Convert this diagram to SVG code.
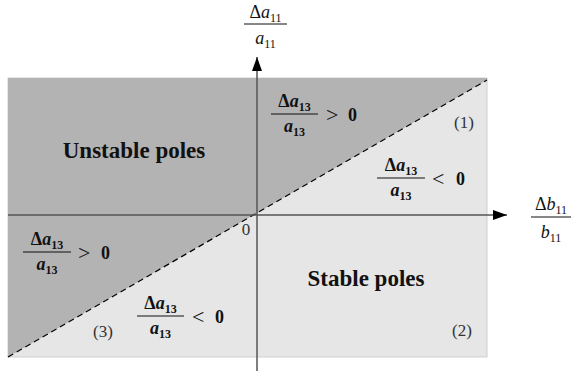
<svg xmlns="http://www.w3.org/2000/svg" width="572" height="373" viewBox="0 0 572 373">
<style>
text{font-family:'Liberation Serif','Times New Roman',Times,'Nimbus Roman','Nimbus Roman No9 L',FreeSerif,'Noto Serif','DejaVu Serif',serif}
.big{font-weight:bold;font-size:23px;fill:#111}
.m{font-size:18px;fill:#111}
.mb{font-size:18px;font-weight:bold;fill:#111}
.rel{font-size:22px;fill:#111}
.it{font-style:italic}
.sub{font-size:12px}
.num{font-size:17px;fill:#333}
.bar{stroke:#111;stroke-width:1.1}
.axis{stroke:#555;stroke-width:1.5;fill:none}
</style>
<defs>
<marker id="ah" viewBox="0 0 14 10" refX="14" refY="5" markerWidth="14" markerHeight="10" markerUnits="userSpaceOnUse" orient="auto">
<path d="M0,0 L14,5 L0,10 Z" fill="#000"/>
</marker>
</defs>
<g id="regions">
<rect x="8" y="78" width="479" height="279" fill="#e6e6e6" stroke="#cfcfcf" stroke-width="1"/>
<polygon points="8,78 487,78 487,80 8,357" fill="#b3b3b3"/>
<line x1="8" y1="357" x2="487" y2="80" stroke="#000" stroke-width="1.2" stroke-dasharray="6,4"/>
</g>
<g id="connectors">
<line class="axis" x1="8" y1="215" x2="507" y2="215" marker-end="url(#ah)"/>
<line class="axis" x1="257" y1="371" x2="257" y2="57" marker-end="url(#ah)"/>
</g>
<g id="unstable">
<text class="big" x="134" y="158" text-anchor="middle">Unstable poles</text>
</g>
<g id="stable">
<text class="big" x="366" y="286" text-anchor="middle">Stable poles</text>
</g>
<g id="yaxis-label">
<text class="m" x="265.5" y="18" text-anchor="middle">Δ<tspan class="it">a</tspan><tspan class="sub" dy="4">11</tspan></text>
<line class="bar" x1="244" y1="24" x2="287" y2="24"/>
<text class="m" x="265.5" y="44" text-anchor="middle"><tspan class="it">a</tspan><tspan class="sub" dy="4">11</tspan></text>
</g>
<g id="xaxis-label">
<text class="m" x="551" y="210" text-anchor="middle">Δ<tspan class="it">b</tspan><tspan class="sub" dy="4">11</tspan></text>
<line class="bar" x1="531" y1="217" x2="571" y2="217"/>
<text class="m" x="551" y="238" text-anchor="middle"><tspan class="it">b</tspan><tspan class="sub" dy="4">11</tspan></text>
</g>
<g id="frac1">
<text class="mb" x="294.5" y="107" text-anchor="middle">Δ<tspan class="it">a</tspan><tspan class="sub" dy="4">13</tspan></text>
<line class="bar" x1="271" y1="114" x2="318" y2="114"/>
<text class="mb" x="294.5" y="132" text-anchor="middle"><tspan class="it">a</tspan><tspan class="sub" dy="4">13</tspan></text>
<text class="rel" x="326" y="122">&gt;</text>
<text class="mb" x="348" y="121">0</text>
</g>
<g id="frac2">
<text class="mb" x="401" y="171" text-anchor="middle">Δ<tspan class="it">a</tspan><tspan class="sub" dy="4">13</tspan></text>
<line class="bar" x1="377" y1="178" x2="425" y2="178"/>
<text class="mb" x="401" y="196" text-anchor="middle"><tspan class="it">a</tspan><tspan class="sub" dy="4">13</tspan></text>
<text class="rel" x="432" y="186">&lt;</text>
<text class="mb" x="456" y="185">0</text>
</g>
<g id="frac3">
<text class="mb" x="47" y="245" text-anchor="middle">Δ<tspan class="it">a</tspan><tspan class="sub" dy="4">13</tspan></text>
<line class="bar" x1="23" y1="252" x2="71" y2="252"/>
<text class="mb" x="47" y="270" text-anchor="middle"><tspan class="it">a</tspan><tspan class="sub" dy="4">13</tspan></text>
<text class="rel" x="78" y="260">&gt;</text>
<text class="mb" x="101" y="259">0</text>
</g>
<g id="frac4">
<text class="mb" x="160.5" y="309" text-anchor="middle">Δ<tspan class="it">a</tspan><tspan class="sub" dy="4">13</tspan></text>
<line class="bar" x1="137" y1="316" x2="184" y2="316"/>
<text class="mb" x="160.5" y="334" text-anchor="middle"><tspan class="it">a</tspan><tspan class="sub" dy="4">13</tspan></text>
<text class="rel" x="192" y="324">&lt;</text>
<text class="mb" x="215" y="323">0</text>
</g>
<g id="marks">
<text class="num" x="464" y="128" text-anchor="middle">(1)</text>
<text class="num" x="462" y="336" text-anchor="middle">(2)</text>
<text class="num" x="103" y="337" text-anchor="middle">(3)</text>
<text class="num" x="246" y="235" text-anchor="middle">0</text>
</g>
</svg>
